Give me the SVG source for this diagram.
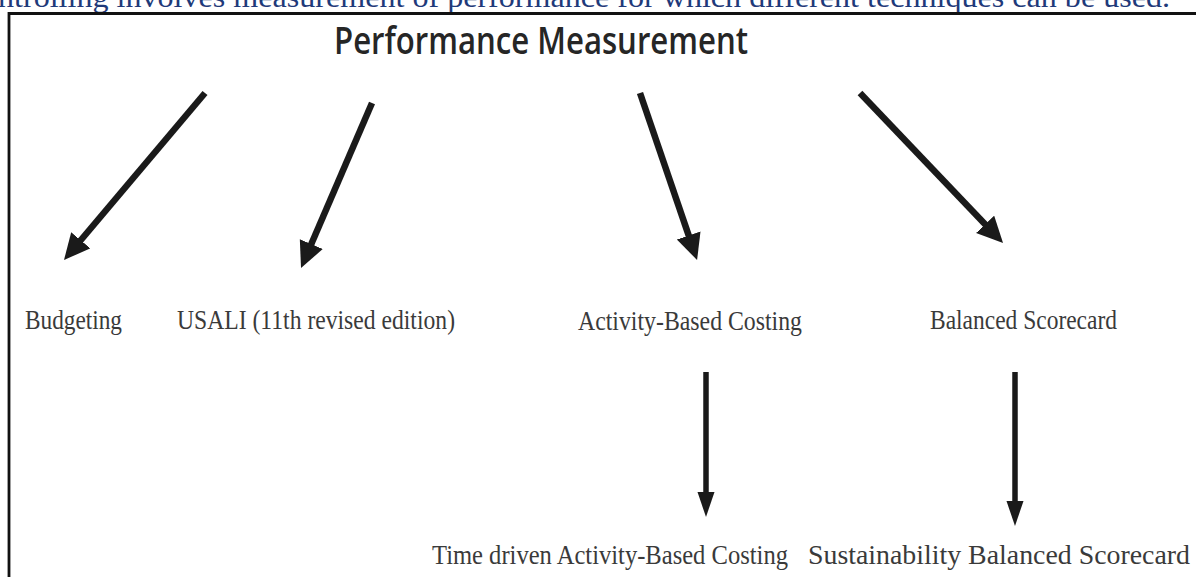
<svg xmlns="http://www.w3.org/2000/svg" width="1196" height="577" viewBox="0 0 1196 577">
  <style>
    .lead { font-family: "Liberation Serif", "Times New Roman", serif; font-size: 29px; fill: #1f3a7a; }
    .title { font-family: "Open Sans", "Liberation Sans", sans-serif; font-size: 37px; font-weight: 600; fill: #262626; }
    .label { font-family: "Liberation Serif", "Times New Roman", serif; font-size: 27px; fill: #3a3a3a; }
    .conn { stroke: #1a1a1a; fill: none; stroke-linecap: butt; }
    .diag { stroke-width: 6.5; marker-end: url(#head); }
    .vert { stroke-width: 5.5; marker-end: url(#headNarrow); }
  </style>
  <defs>
    <marker id="head" markerUnits="userSpaceOnUse" markerWidth="30" markerHeight="28" refX="1" refY="12.5" orient="auto">
      <path d="M0,0 L26,12.5 L0,25 z" fill="#1a1a1a"/>
    </marker>
    <marker id="headNarrow" markerUnits="userSpaceOnUse" markerWidth="28" markerHeight="20" refX="1" refY="8.5" orient="auto">
      <path d="M0,0 L25,8.5 L0,17 z" fill="#1a1a1a"/>
    </marker>
  </defs>

  <rect width="1196" height="577" fill="#ffffff"/>

  <!-- running sentence above the figure frame -->
  <text class="lead" x="-2" y="7" textLength="1172" lengthAdjust="spacingAndGlyphs">ntrolling involves measurement of performance for which different techniques can be used.</text>

  <!-- figure frame (top and left edges) -->
  <path d="M9,580 L9,13.5 L1200,13.5" fill="none" stroke="#111" stroke-width="2.8"/>

  <g id="root">
    <text class="title" x="334" y="54" textLength="414" lengthAdjust="spacingAndGlyphs">Performance Measurement</text>
  </g>

  <g id="budgeting">
    <text class="label" x="25" y="329" textLength="97" lengthAdjust="spacingAndGlyphs">Budgeting</text>
  </g>
  <g id="usali">
    <text class="label" x="177" y="329" textLength="278" lengthAdjust="spacingAndGlyphs">USALI (11th revised edition)</text>
  </g>
  <g id="abc">
    <text class="label" x="578" y="330" textLength="224" lengthAdjust="spacingAndGlyphs">Activity-Based Costing</text>
  </g>
  <g id="bsc">
    <text class="label" x="930" y="329" textLength="187" lengthAdjust="spacingAndGlyphs">Balanced Scorecard</text>
  </g>
  <g id="tdabc">
    <text class="label" x="432" y="564" textLength="356" lengthAdjust="spacingAndGlyphs">Time driven Activity-Based Costing</text>
  </g>
  <g id="sbsc">
    <text class="label" x="808" y="564" textLength="382" lengthAdjust="spacingAndGlyphs">Sustainability Balanced Scorecard</text>
  </g>

  <g id="connectors" class="conn">
    <line class="diag" x1="205" y1="93" x2="80.1" y2="241"/>
    <line class="diag" x1="372" y1="103" x2="310.9" y2="245"/>
    <line class="diag" x1="640" y1="93" x2="689" y2="236.4"/>
    <line class="diag" x1="860" y1="93" x2="985.8" y2="225"/>
    <line class="vert" x1="706" y1="372" x2="706" y2="493"/>
    <line class="vert" x1="1015" y1="372" x2="1015" y2="502"/>
  </g>
</svg>
